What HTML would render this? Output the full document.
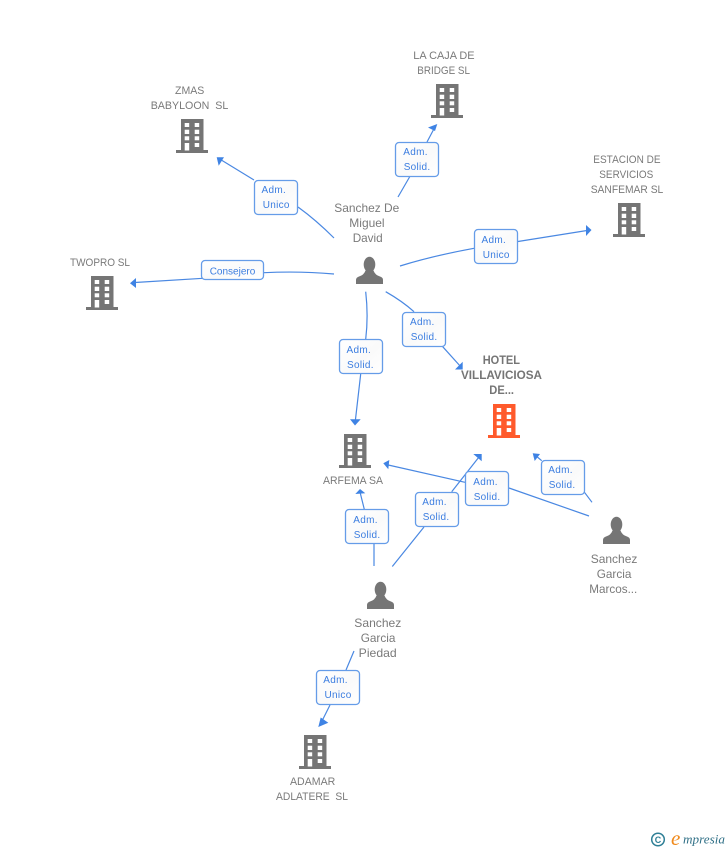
<!DOCTYPE html>
<html><head><meta charset="utf-8"><style>
html,body{margin:0;padding:0;background:#fff}
body{width:728px;height:850px;overflow:hidden;position:relative}
svg{position:absolute;left:0;top:0}
.l text{font:11px "Liberation Sans",sans-serif;fill:#7a7a7a}
.n text{font:12px "Liberation Sans",sans-serif;fill:#7a7a7a}
.h text{font:bold 12px "Liberation Sans",sans-serif;fill:#757575}
.b text{font:10px "Liberation Sans",sans-serif;fill:#3b7de0;letter-spacing:.3px}
.e{fill:none;stroke:#4a88e2;stroke-width:1.2}
.box{fill:url(#g);stroke:#659ce8;stroke-width:1.3}
.c{font:bold 9px "Liberation Sans",sans-serif;fill:#2f7f96}
.m{font:italic 13px "Liberation Serif",serif;fill:#2f6f86}
.o{font:italic 21px "Liberation Serif",serif;fill:#f08a1c}
</style></head><body>
<svg width="728" height="850" viewBox="0 0 728 850">
<defs>
<linearGradient id="g" x1="0" y1="0" x2="1" y2="1"><stop offset="0" stop-color="#fff"/><stop offset=".55" stop-color="#fafafa"/><stop offset="1" stop-color="#fff"/></linearGradient>
<g id="bw" fill="#fff"><rect x="8.700" y="4" width="4.500" height="4"/><rect x="18.700" y="4" width="4.500" height="4"/><rect x="8.700" y="10.700" width="4.500" height="4.300"/><rect x="18.700" y="10.700" width="4.500" height="4.300"/><rect x="8.700" y="17.300" width="4.500" height="4"/><rect x="18.700" y="17.300" width="4.500" height="4"/><rect x="8.700" y="24" width="4.500" height="7.500"/><rect x="18.700" y="24" width="4.500" height="4"/></g>
<g id="bd"><g fill="#757575"><rect x="5" y="0" width="22.500" height="32"/><rect x="0" y="31" width="32" height="3"/></g><use href="#bw"/></g>
<g id="bo"><g fill="#ff5a2c"><rect x="5" y="0" width="22.500" height="32"/><rect x="0" y="31" width="32" height="3"/></g><use href="#bw"/></g>
<g id="p" fill="#757575"><ellipse cx="13.500" cy="7.500" rx="5.800" ry="7.800"/><path d="M0 27V23Q0 20.500 3 19.500Q8 18 9.500 13.500H17.500Q19 18 24 19.500Q27 20.500 27 23V27Z"/></g>
</defs>

<g class="e">
<path d="M398 197L424 152M427 142L436 125"/>
<path d="M334 238Q316 220 298 207M254 180L218 158"/>
<path d="M400 266Q432 256 474 248.300M518 241.500L587 230.500"/>
<path d="M334 274Q300 271 264 272.700M203 278.300L135 282.500"/>
<path d="M385.700 291.700Q402 301 414 311.700M442.700 346.700L461 367"/>
<path d="M365.700 291.700Q368.500 316 365.700 339.300M360.700 374L355.300 421"/>
<path d="M374 566V544M364.300 509.300L360 492"/>
<path d="M392.300 566.500L424 527M451.700 491.700L479 457"/>
<path d="M589 516L509 488M465 482.300L386 464.500"/>
<path d="M592 502.300L584 491.700M541.700 460.700L535 455"/>
<path d="M354 651L346 670M330 705L320.500 724"/>
</g>
<g fill="#3f83e4">
<path d="M437.300 124L428 127.500L435 131z"/>
<path d="M216.700 157.300L224 157.300L218.700 165.700z"/>
<path d="M591.500 230L586 225V236z"/>
<path d="M130 283.300L136 278V288z"/>
<path d="M462.700 369.500H455L462.700 361.700z"/>
<path d="M355 425.500L350 419.300H360.700z"/>
<path d="M360 489L355.300 494L365.300 493.300z"/>
<path d="M481.700 454H473.300L481.700 461.300z"/>
<path d="M383.300 463.300L389.300 460L388.300 469.300z"/>
<path d="M532.700 453.300L540 454L534.700 461z"/>
<path d="M318.300 727L320.700 717.500L328.300 722.700z"/>
</g>

<g class="box">
<rect x="395.500" y="142.500" width="43" height="34" rx="3.500"/>
<rect x="254.500" y="180.500" width="43" height="34" rx="3.500"/>
<rect x="474.500" y="229.500" width="43" height="34" rx="3.500"/>
<rect x="201.500" y="260.500" width="62" height="19" rx="3.500"/>
<rect x="402.500" y="312.500" width="43" height="34" rx="3.500"/>
<rect x="339.500" y="339.500" width="43" height="34" rx="3.500"/>
<rect x="345.500" y="509.500" width="43" height="34" rx="3.500"/>
<rect x="415.500" y="492.500" width="43" height="34" rx="3.500"/>
<rect x="465.500" y="471.500" width="43" height="34" rx="3.500"/>
<rect x="541.500" y="460.500" width="43" height="34" rx="3.500"/>
<rect x="316.500" y="670.500" width="43" height="34" rx="3.500"/>
</g>

<g class="b">
<text x="403.300" y="155">Adm.</text><text x="403.700" y="170">Solid.</text>
<text x="261.500" y="193">Adm.</text><text x="262.700" y="208">Unico</text>
<text x="481.500" y="243">Adm.</text><text x="482.700" y="258">Unico</text>
<text x="209.700" y="274.500" style="letter-spacing:0">Consejero</text>
<text x="410" y="325">Adm.</text><text x="410.700" y="340">Solid.</text>
<text x="346.500" y="353">Adm.</text><text x="347" y="368">Solid.</text>
<text x="353.300" y="523">Adm.</text><text x="353.700" y="538">Solid.</text>
<text x="422.300" y="505">Adm.</text><text x="422.700" y="520">Solid.</text>
<text x="473.300" y="485">Adm.</text><text x="473.700" y="500">Solid.</text>
<text x="548.300" y="473">Adm.</text><text x="548.700" y="488">Solid.</text>
<text x="323.300" y="683">Adm.</text><text x="324.500" y="698">Unico</text>
</g>

<use href="#bd" x="176" y="119"/>
<use href="#bd" x="431" y="84"/>
<use href="#bd" x="613" y="203"/>
<use href="#bd" x="86" y="276"/>
<use href="#bo" x="488" y="404"/>
<use href="#bd" x="339" y="434"/>
<use href="#bd" x="299" y="735"/>
<use href="#p" x="356" y="257"/>
<use href="#p" x="367" y="582"/>
<use href="#p" x="603" y="517"/>

<g class="l">
<text x="175" y="94" textLength="29.300" lengthAdjust="spacingAndGlyphs">ZMAS</text>
<text x="150.700" y="109" textLength="77.600" lengthAdjust="spacingAndGlyphs">BABYLOON&#160; SL</text>
<text x="413.300" y="59" textLength="61.300" lengthAdjust="spacingAndGlyphs">LA CAJA DE</text>
<text x="417.300" y="74" textLength="52.700" lengthAdjust="spacingAndGlyphs">BRIDGE SL</text>
<text x="593.300" y="163" textLength="67.300" lengthAdjust="spacingAndGlyphs">ESTACION DE</text>
<text x="599.300" y="178" textLength="54" lengthAdjust="spacingAndGlyphs">SERVICIOS</text>
<text x="590.700" y="193" textLength="72.600" lengthAdjust="spacingAndGlyphs">SANFEMAR SL</text>
<text x="70" y="266" textLength="60" lengthAdjust="spacingAndGlyphs">TWOPRO SL</text>
<text x="323" y="484" textLength="60" lengthAdjust="spacingAndGlyphs">ARFEMA SA</text>
<text x="290" y="785" textLength="45.300" lengthAdjust="spacingAndGlyphs">ADAMAR</text>
<text x="276" y="800" textLength="72" lengthAdjust="spacingAndGlyphs">ADLATERE&#160; SL</text>
</g>
<g class="n">
<text x="334.300" y="212" textLength="65" lengthAdjust="spacingAndGlyphs">Sanchez De</text>
<text x="349.300" y="227" textLength="35.300" lengthAdjust="spacingAndGlyphs">Miguel</text>
<text x="352.700" y="242" textLength="30" lengthAdjust="spacingAndGlyphs">David</text>
<text x="590.700" y="563" textLength="46.700" lengthAdjust="spacingAndGlyphs">Sanchez</text>
<text x="596.700" y="578" textLength="34.700" lengthAdjust="spacingAndGlyphs">Garcia</text>
<text x="589.300" y="593" textLength="48" lengthAdjust="spacingAndGlyphs">Marcos...</text>
<text x="354.300" y="627" textLength="47" lengthAdjust="spacingAndGlyphs">Sanchez</text>
<text x="360.700" y="642" textLength="34.700" lengthAdjust="spacingAndGlyphs">Garcia</text>
<text x="358.700" y="657" textLength="38" lengthAdjust="spacingAndGlyphs">Piedad</text>
</g>
<g class="h">
<text x="482.700" y="364" textLength="37.300" lengthAdjust="spacingAndGlyphs">HOTEL</text>
<text x="461" y="379" textLength="81" lengthAdjust="spacingAndGlyphs">VILLAVICIOSA</text>
<text x="489.300" y="394" textLength="24.700" lengthAdjust="spacingAndGlyphs">DE...</text>
</g>

<circle cx="658" cy="839.500" r="6.300" fill="none" stroke="#2f7f96" stroke-width="1.500"/>
<text class="c" x="654.800" y="842.800">C</text>
<text class="o" x="671" y="845">e</text>
<text class="m" x="683" y="843.500" textLength="42" lengthAdjust="spacingAndGlyphs">mpresia</text>
</svg>
</body></html>
